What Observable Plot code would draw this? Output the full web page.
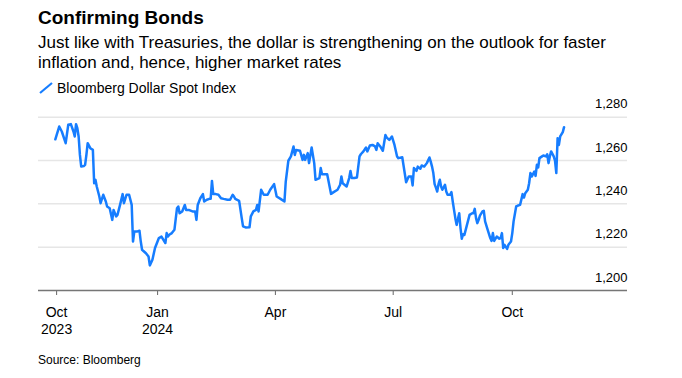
<!DOCTYPE html>
<html>
<head>
<meta charset="utf-8">
<script src="https://cdn.jsdelivr.net/npm/d3@7"></script>
<script src="https://cdn.jsdelivr.net/npm/@observablehq/plot@0.6"></script>
<style>
  html, body { margin: 0; padding: 0; background: #fff; }
  body { font-family: "Liberation Sans", Arial, Helvetica, sans-serif; color: #000; }
  #wrap { position: relative; width: 682px; height: 378px; overflow: hidden; }
  #title { position: absolute; left: 38px; top: 8px; font-size: 19px; line-height: 19px; font-weight: bold; white-space: nowrap; }
  #subtitle { position: absolute; left: 38px; top: 33px; width: 600px; font-size: 17px; line-height: 20px; }
  #legend { position: absolute; left: 39px; top: 80px; font-size: 14px; line-height: 16px; white-space: nowrap; display: flex; align-items: center; }
  #legend svg { margin-right: 4px; }
  #chart { position: absolute; left: 0; top: 88px; }
  #source { position: absolute; left: 38px; top: 353px; font-size: 12px; line-height: 14px; }
</style>
</head>
<body>
<div id="wrap">
  <div id="title">Confirming Bonds</div>
  <div id="subtitle">Just like with Treasuries, the dollar is strengthening on the outlook for faster inflation and, hence, higher market rates</div>
  <div id="legend"><svg width="14" height="12"><line x1="1" y1="11" x2="13" y2="1" stroke="#167dff" stroke-width="2.2"/></svg><span>Bloomberg Dollar Spot Index</span></div>
  <div id="chart"></div>
  <div id="source">Source: Bloomberg</div>
</div>
<script>
const seriesName = "Bloomberg Dollar Spot Index";

const dates = [
  "2023-10-14","2023-10-17","2023-10-19","2023-10-22","2023-10-24","2023-10-26","2023-10-28","2023-10-29","2023-10-30","2023-10-31",
  "2023-11-01","2023-11-02","2023-11-03","2023-11-05","2023-11-06","2023-11-07","2023-11-08","2023-11-10","2023-11-12","2023-11-13",
  "2023-11-14","2023-11-15","2023-11-17","2023-11-18","2023-11-20","2023-11-22","2023-11-23","2023-11-25","2023-11-27","2023-11-28",
  "2023-11-30","2023-12-01","2023-12-03","2023-12-05","2023-12-06","2023-12-08","2023-12-10","2023-12-12","2023-12-13","2023-12-14",
  "2023-12-16","2023-12-18","2023-12-19","2023-12-20","2023-12-23","2023-12-25","2023-12-26","2023-12-28","2023-12-30","2024-01-02",
  "2024-01-04","2024-01-07","2024-01-08","2024-01-09","2024-01-10","2024-01-12","2024-01-14","2024-01-16","2024-01-17","2024-01-18",
  "2024-01-20","2024-01-22","2024-01-23","2024-01-25","2024-01-28","2024-01-30","2024-01-31","2024-02-01","2024-02-03","2024-02-05",
  "2024-02-06","2024-02-08","2024-02-10","2024-02-11","2024-02-12","2024-02-13","2024-02-15","2024-02-17","2024-02-19","2024-02-21",
  "2024-02-24","2024-02-26","2024-02-28","2024-02-29","2024-03-01","2024-03-04","2024-03-06","2024-03-07","2024-03-09","2024-03-12",
  "2024-03-13","2024-03-15","2024-03-17","2024-03-18","2024-03-19","2024-03-21","2024-03-23","2024-03-26","2024-03-28","2024-03-31",
  "2024-04-02","2024-04-05","2024-04-08","2024-04-09","2024-04-11","2024-04-13","2024-04-15","2024-04-16","2024-04-17","2024-04-20",
  "2024-04-22","2024-04-23","2024-04-24","2024-04-26","2024-04-27","2024-04-29","2024-05-01","2024-05-02","2024-05-05","2024-05-06",
  "2024-05-07","2024-05-11","2024-05-14","2024-05-16","2024-05-19","2024-05-21","2024-05-22","2024-05-23","2024-05-26","2024-05-28",
  "2024-05-29","2024-05-30","2024-06-01","2024-06-03","2024-06-05","2024-06-06","2024-06-08","2024-06-10","2024-06-11","2024-06-13",
  "2024-06-15","2024-06-17","2024-06-18","2024-06-19","2024-06-21","2024-06-23","2024-06-25","2024-06-26","2024-06-28","2024-06-30",
  "2024-07-02","2024-07-04","2024-07-05","2024-07-08","2024-07-11","2024-07-13","2024-07-15","2024-07-16","2024-07-17","2024-07-19",
  "2024-07-20","2024-07-22","2024-07-23","2024-07-25","2024-07-27","2024-07-29","2024-07-30","2024-07-31","2024-08-01","2024-08-02",
  "2024-08-03","2024-08-04","2024-08-05","2024-08-06","2024-08-07","2024-08-08","2024-08-10","2024-08-11","2024-08-12","2024-08-14",
  "2024-08-15","2024-08-16","2024-08-17","2024-08-18","2024-08-19","2024-08-21","2024-08-22","2024-08-23","2024-08-24","2024-08-25",
  "2024-08-26","2024-08-28","2024-08-29","2024-08-31","2024-09-01","2024-09-02","2024-09-03","2024-09-04","2024-09-05","2024-09-06",
  "2024-09-08","2024-09-09","2024-09-10","2024-09-12","2024-09-14","2024-09-15","2024-09-16","2024-09-17","2024-09-19","2024-09-21",
  "2024-09-22","2024-09-23","2024-09-24","2024-09-25","2024-09-27","2024-09-28","2024-09-30","2024-10-01","2024-10-02","2024-10-04",
  "2024-10-05","2024-10-07","2024-10-09","2024-10-10","2024-10-11","2024-10-13","2024-10-14","2024-10-15","2024-10-16","2024-10-18",
  "2024-10-19","2024-10-20","2024-10-21","2024-10-22","2024-10-24","2024-10-25","2024-10-27","2024-10-28","2024-10-29","2024-10-30",
  "2024-10-31","2024-11-02","2024-11-03","2024-11-04","2024-11-05","2024-11-06","2024-11-07","2024-11-09","2024-11-10"
];

const values = [
  1269.8,1275.7,1273.4,1268.0,1276.5,1276.8,1273.4,1271.1,1276.8,1274.9,
  1271.1,1262.6,1257.2,1257.5,1258.0,1262.6,1268.0,1265.7,1264.9,1249.5,
  1251.1,1248.0,1243.4,1240.3,1244.2,1241.1,1238.8,1238.0,1232.6,1237.2,
  1234.2,1234.9,1239.5,1244.5,1240.3,1244.2,1244.2,1239.5,1222.6,1227.2,
  1227.2,1227.6,1222.6,1218.8,1217.2,1215.7,1211.6,1214.2,1219.6,1224.2,
  1224.9,1221.9,1226.5,1224.9,1225.7,1226.5,1228.0,1238.0,1238.8,1235.7,
  1236.5,1239.5,1237.2,1237.2,1236.5,1236.5,1232.6,1239.5,1242.6,1244.5,
  1241.1,1241.9,1242.3,1242.3,1250.6,1244.5,1244.5,1244.2,1242.6,1242.3,
  1241.9,1241.9,1244.2,1243.4,1242.3,1241.4,1233.4,1229.6,1229.1,1229.2,
  1234.2,1236.5,1237.2,1239.5,1236.5,1246.5,1244.2,1244.2,1246.5,1249.1,
  1243.4,1242.3,1241.1,1250.3,1259.9,1261.9,1266.5,1262.6,1264.9,1264.5,
  1260.3,1262.6,1260.3,1263.4,1258.8,1266.0,1258.8,1251.1,1251.9,1256.5,
  1253.7,1253.7,1244.6,1245.4,1246.5,1248.8,1252.6,1249.5,1248.0,1251.9,
  1255.2,1251.9,1251.9,1252.2,1261.9,1262.9,1264.2,1266.0,1264.2,1266.9,
  1267.2,1266.5,1264.9,1268.0,1266.5,1264.5,1271.8,1270.6,1269.5,1271.1,
  1267.2,1261.9,1261.1,1261.5,1250.0,1252.6,1252.6,1248.5,1256.5,1255.2,
  1257.2,1256.2,1257.7,1257.2,1258.8,1261.4,1259.5,1257.2,1254.2,1249.1,
  1247.5,1245.7,1249.1,1251.1,1248.0,1246.5,1248.8,1245.7,1244.2,1244.2,
  1245.4,1241.1,1237.2,1233.4,1230.3,1235.7,1228.8,1223.9,1226.0,1225.7,
  1228.0,1232.6,1234.9,1235.7,1235.7,1237.7,1233.4,1231.1,1232.6,1234.6,
  1236.5,1236.8,1231.9,1228.0,1224.2,1222.9,1226.5,1222.9,1224.9,1223.9,
  1224.2,1226.5,1219.6,1221.1,1219.2,1221.1,1222.6,1226.5,1231.9,1238.8,
  1239.1,1239.5,1244.5,1242.9,1244.9,1246.5,1249.5,1254.2,1252.6,1254.9,
  1252.9,1258.0,1256.8,1261.1,1261.9,1262.3,1261.9,1262.9,1258.8,1261.9,
  1264.2,1261.9,1259.9,1254.2,1270.3,1267.2,1271.1,1273.1,1275.4
];

// Axis ticks (first label sits at the start of the series, as in the original)
const xTickDates = ["2023-10-15", "2024-01-01", "2024-04-01", "2024-07-01", "2024-10-01"];
const xTickLabels = ["Oct\n2023", "Jan\n2024", "Apr", "Jul", "Oct"];
const yTicks = [1200, 1220, 1240, 1260, 1280];
const xDomain = ["2023-10-01", "2024-12-29"];
const yDomain = [1200, 1280];

const parse = d3.utcParse("%Y-%m-%d");
const data = dates.map((d, i) => ({date: parse(d), value: values[i]}));
const tickDates = xTickDates.map(parse);
const labelMap = new Map(tickDates.map((d, i) => [+d, xTickLabels[i]]));

const blue = "#167dff";

const chart = Plot.plot({
  width: 682,
  height: 252,
  marginLeft: 38,
  marginRight: 55,
  marginTop: 28.7,
  marginBottom: 50,
  style: {fontFamily: '"Liberation Sans", Arial, Helvetica, sans-serif', color: "#000", background: "transparent", overflow: "visible"},
  x: {type: "utc", domain: xDomain.map(parse)},
  y: {domain: yDomain},
  marks: [
    Plot.gridY(yTicks.filter(d => d !== 1200), {stroke: "#e6e6e6", strokeOpacity: 1, strokeWidth: 1.5}),
    Plot.axisY(yTicks, {
      anchor: "right", tickSize: 0, tickPadding: 0, textAnchor: "end", dy: -13,
      fontSize: 13, label: null, tickFormat: d3.format(",")
    }),
    Plot.axisX(tickDates, {
      anchor: "bottom", tickSize: 5, tickPadding: 10, fontSize: 14, lineHeight: 1.18,
      stroke: "#666", strokeWidth: 1, label: null, fill: "#000",
      tickFormat: d => labelMap.get(+d)
    }),
    Plot.ruleY([1200], {stroke: "#767676", strokeWidth: 1.5}),
    Plot.lineY(data, {x: "date", y: "value", stroke: blue, strokeWidth: 2.5, strokeLinejoin: "round", strokeLinecap: "round"})
  ]
});
document.getElementById("chart").appendChild(chart);
</script>
</body>
</html>
